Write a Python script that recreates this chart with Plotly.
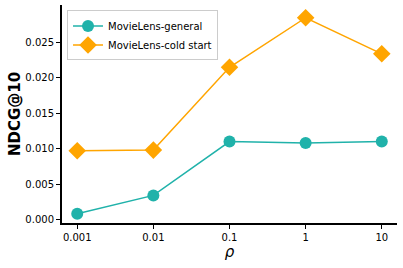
import plotly.graph_objects as go

rho_labels = ["0.001", "0.01", "0.1", "1", "10"]
general = [0.0008, 0.0034, 0.0110, 0.0108, 0.0110]
cold_start = [0.0097, 0.0098, 0.0215, 0.0285, 0.0234]
y_ticks = [0.000, 0.005, 0.010, 0.015, 0.020, 0.025]

fig = go.Figure()
fig.add_trace(go.Scatter(
    x=rho_labels, y=general, mode="lines+markers", name="MovieLens-general",
    line=dict(color="#20b2aa", width=1.5),
    marker=dict(symbol="circle", size=12, color="#20b2aa"),
))
fig.add_trace(go.Scatter(
    x=rho_labels, y=cold_start, mode="lines+markers", name="MovieLens-cold start",
    line=dict(color="#ffa500", width=1.5),
    marker=dict(symbol="diamond", size=13.5, color="#ffa500"),
))

fig.update_layout(
    width=403, height=268,
    margin=dict(l=62, r=6, t=5, b=45),
    plot_bgcolor="white", paper_bgcolor="white",
    font=dict(family="DejaVu Sans", size=10, color="black"),
    showlegend=True,
    legend=dict(x=0.015, y=0.975, xanchor="left", yanchor="top",
                bgcolor="rgba(255,255,255,0.8)", bordercolor="#cccccc", borderwidth=1,
                font=dict(size=10), itemsizing="trace", tracegroupgap=0,
                itemwidth=30),
)
fig.update_xaxes(
    type="category", range=[-0.2, 4.2], automargin=False,
    showline=True, linecolor="black", linewidth=2, mirror=False,
    ticks="outside", ticklen=4, tickcolor="black", showgrid=False, zeroline=False,
    title=dict(text="<i>ρ</i>", font=dict(size=15), standoff=4),
)
fig.update_yaxes(
    range=[-0.0005, 0.0303], tickvals=y_ticks, tickformat=".3f", automargin=False,
    showline=True, linecolor="black", linewidth=2, mirror=False,
    ticks="outside", ticklen=4, tickcolor="black", showgrid=False, zeroline=False,
    title=dict(text="<b>NDCG@10</b>", font=dict(size=15), standoff=1),
)

fig.write_html("out.html", config={"displayModeBar": False},
               post_script="document.body.style.margin='0';document.body.style.padding='0';")
